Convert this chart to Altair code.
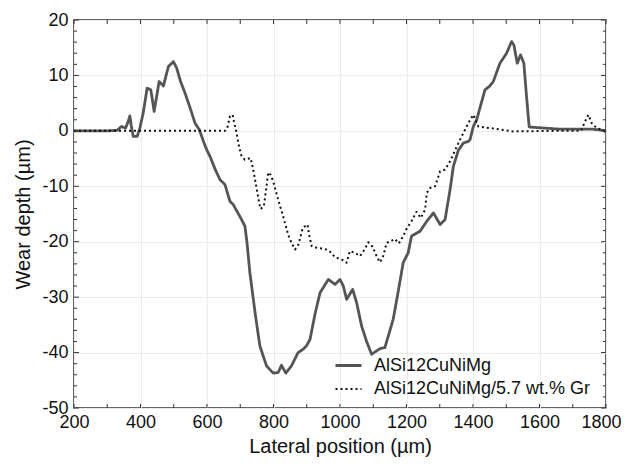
import altair as alt
import pandas as pd

S1 = "AlSi12CuNiMg"
S2 = "AlSi12CuNiMg/5.7 wt.% Gr"

solid_x = [200, 250, 300, 330, 343, 355, 362, 368, 372, 378, 390, 398, 408, 420, 431, 436, 441, 448,
           456, 469, 477, 484, 499, 509, 520, 534, 550, 564, 577, 590, 599, 609, 625, 639, 654, 669,
           679, 690, 704, 714, 720, 729, 745, 759, 779, 799, 814, 824, 837, 854, 874, 889, 899, 910,
           925, 940, 965, 985, 1000, 1010, 1020, 1038, 1050, 1065, 1080, 1095, 1120, 1135, 1160, 1175,
           1190, 1205, 1215, 1241, 1261, 1281, 1301, 1316, 1331, 1341, 1356, 1371, 1386, 1391, 1401,
           1411, 1436, 1449, 1461, 1481, 1501, 1516, 1523, 1533, 1543, 1553, 1561, 1569, 1591, 1662,
           1760, 1790, 1800]
solid_y = [0, 0, 0, 0.1, 0.8, 0.5, 1.5, 2.7, 1.0, -1.0, -1.0, 0.5, 3.2, 7.7, 7.4, 5.5, 3.5, 6.0,
           8.9, 8.1, 10.0, 11.6, 12.5, 11.3, 9.0, 6.8, 4.0, 1.4, 0.2, -2.0, -3.4, -4.6, -7.0, -8.8, -9.7, -12.7,
           -13.3, -14.5, -16.0, -17.2, -20.0, -25.6, -33.0, -38.8, -42.4, -43.7, -43.6, -42.3, -43.7, -42.4, -40.0, -39.4, -38.8, -37.6,
           -33.0, -29.2, -26.8, -27.7, -26.8, -28.0, -30.4, -28.6, -31.0, -35.2, -38.0, -40.3, -39.3, -39.1, -34.0, -29.0,
           -23.8, -22.0, -19.0, -18.1, -16.3, -14.8, -16.9, -16.0, -10.6, -6.4, -3.5, -2.2, -1.9, -1.6, 0.8,
           2.0, 7.4, 8.0, 8.9, 12.2, 14.0, 16.1, 15.5, 12.2, 13.7, 12.2, 6.2, 0.7, 0.6, 0.3,
           0.3, 0.1, -0.2]

dot_x = [200, 640, 654, 661, 669, 677, 681, 689, 694, 704, 714, 731, 739, 749, 757, 761, 771, 779,
         784, 791, 799, 814, 829, 844, 854, 865, 875, 888, 902, 908, 915, 930, 955, 970, 985, 1008,
         1020, 1030, 1045, 1060, 1075, 1085, 1098, 1110, 1120, 1130, 1140, 1153, 1165, 1177, 1190,
         1200, 1215, 1230, 1243, 1256, 1261, 1271, 1286, 1301, 1316, 1331, 1356, 1371, 1386, 1401,
         1416, 1451, 1521, 1641, 1725, 1737, 1747, 1757, 1772, 1800]
dot_y = [0, 0, 0, 0.5, 2.6, 2.9, 1.7, -0.4, -2.2, -4.6, -5.2, -4.9, -7.0, -10.3, -13.0, -14.1, -13.6, -10.0,
         -7.5, -7.9, -9.1, -12.4, -15.4, -18.7, -20.2, -21.4, -20.5, -17.5, -16.9, -19.0, -20.8, -21.1, -21.3, -21.8, -22.8, -23.3,
         -23.8, -21.7, -22.0, -22.6, -21.3, -20.1, -20.9, -22.6, -23.7, -22.6, -20.2, -19.9, -19.5, -20.3, -19.0,
         -17.7, -16.3, -14.6, -15.7, -14.2, -11.2, -10.3, -10.0, -7.3, -7.0, -5.5, -2.2, -0.4, 1.4, 2.9,
         0.8, 0.5, -0.1, 0, 0, 1.7, 2.9, 1.4, 0.5, 0]

x_grid = [200, 400, 600, 800, 1000, 1200, 1400, 1600, 1800]
y_grid = [-50, -40, -30, -20, -10, 0, 10, 20]
x_ticks = list(range(200, 1801, 100))
y_minor = [v for v in range(-50, 21, 2) if v % 10 != 0]

W, H = 532, 388
FONT = "Liberation Sans"

df = pd.concat([
    pd.DataFrame({"x": solid_x, "y": solid_y, "s": S1, "o": range(len(solid_x))}),
    pd.DataFrame({"x": dot_x, "y": dot_y, "s": S2, "o": range(len(dot_x))}),
])

xs = alt.Scale(domain=[200, 1800], nice=False, zero=False)
ys = alt.Scale(domain=[-50, 20], nice=False, zero=False)

leg = alt.Legend(title=None, orient="none", legendX=260, legendY=331, symbolType="stroke",
                 symbolSize=676, labelFontSize=18, labelFont=FONT, labelColor="#111",
                 labelOffset=11, rowPadding=0, labelLimit=400)

lines = alt.Chart(df).mark_line(strokeJoin="round").encode(
    x=alt.X("x:Q", scale=xs, axis=alt.Axis(title="Lateral position (µm)", values=x_grid,
                                           labelExpr="'' + datum.value", labelFlush=True,
                                           labelFlushOffset=15,
                                           labelPadding=5, titlePadding=5)),
    y=alt.Y("y:Q", scale=ys, axis=alt.Axis(title="Wear depth (µm)", values=y_grid,
                                           labelExpr="'' + datum.value", labelFlush=False,
                                           labelPadding=6, titlePadding=8)),
    color=alt.Color("s:N", scale=alt.Scale(domain=[S1, S2], range=["#555555", "#111111"]), legend=leg),
    strokeDash=alt.StrokeDash("s:N", scale=alt.Scale(domain=[S1, S2], range=[[1, 0], [2, 3]]), legend=leg),
    strokeWidth=alt.StrokeWidth("s:N", scale=alt.Scale(domain=[S1, S2], range=[2.8, 2.0]), legend=leg),
    order="o:Q",
)

ymaj = pd.DataFrame({"y": y_grid})
ymin = pd.DataFrame({"y": y_minor})
xt = pd.DataFrame({"x": x_ticks})
tc = "#333333"

def yticks(d, L):
    a = alt.Chart(d).mark_rule(color=tc, strokeWidth=1).encode(
        y=alt.Y("y:Q", scale=ys), x=alt.value(0), x2=alt.value(L))
    b = alt.Chart(d).mark_rule(color=tc, strokeWidth=1).encode(
        y=alt.Y("y:Q", scale=ys), x=alt.value(W - L), x2=alt.value(W))
    return [a, b]

xa = alt.Chart(xt).mark_rule(color=tc, strokeWidth=1).encode(
    x=alt.X("x:Q", scale=xs), y=alt.value(H - 4), y2=alt.value(H))
xb = alt.Chart(xt).mark_rule(color=tc, strokeWidth=1).encode(
    x=alt.X("x:Q", scale=xs), y=alt.value(0), y2=alt.value(4))

chart = alt.layer(lines, *yticks(ymaj, 5), *yticks(ymin, 3), xa, xb).properties(
    width=W, height=H,
    background="white",
    autosize=alt.AutoSizeParams(type="none"),
    padding={"left": 66, "top": 12, "right": 15, "bottom": 50},
).configure_view(stroke="#333333", strokeWidth=1.5).configure_axis(
    domain=False, ticks=False, grid=True, gridColor="#ebebeb", gridWidth=1,
    labelFont=FONT, labelFontSize=18, labelColor="#111",
    titleFont=FONT, titleFontSize=20, titleFontWeight="normal", titleColor="#111",
)

chart.save("out.html", embed_options={"renderer": "svg", "actions": False})
